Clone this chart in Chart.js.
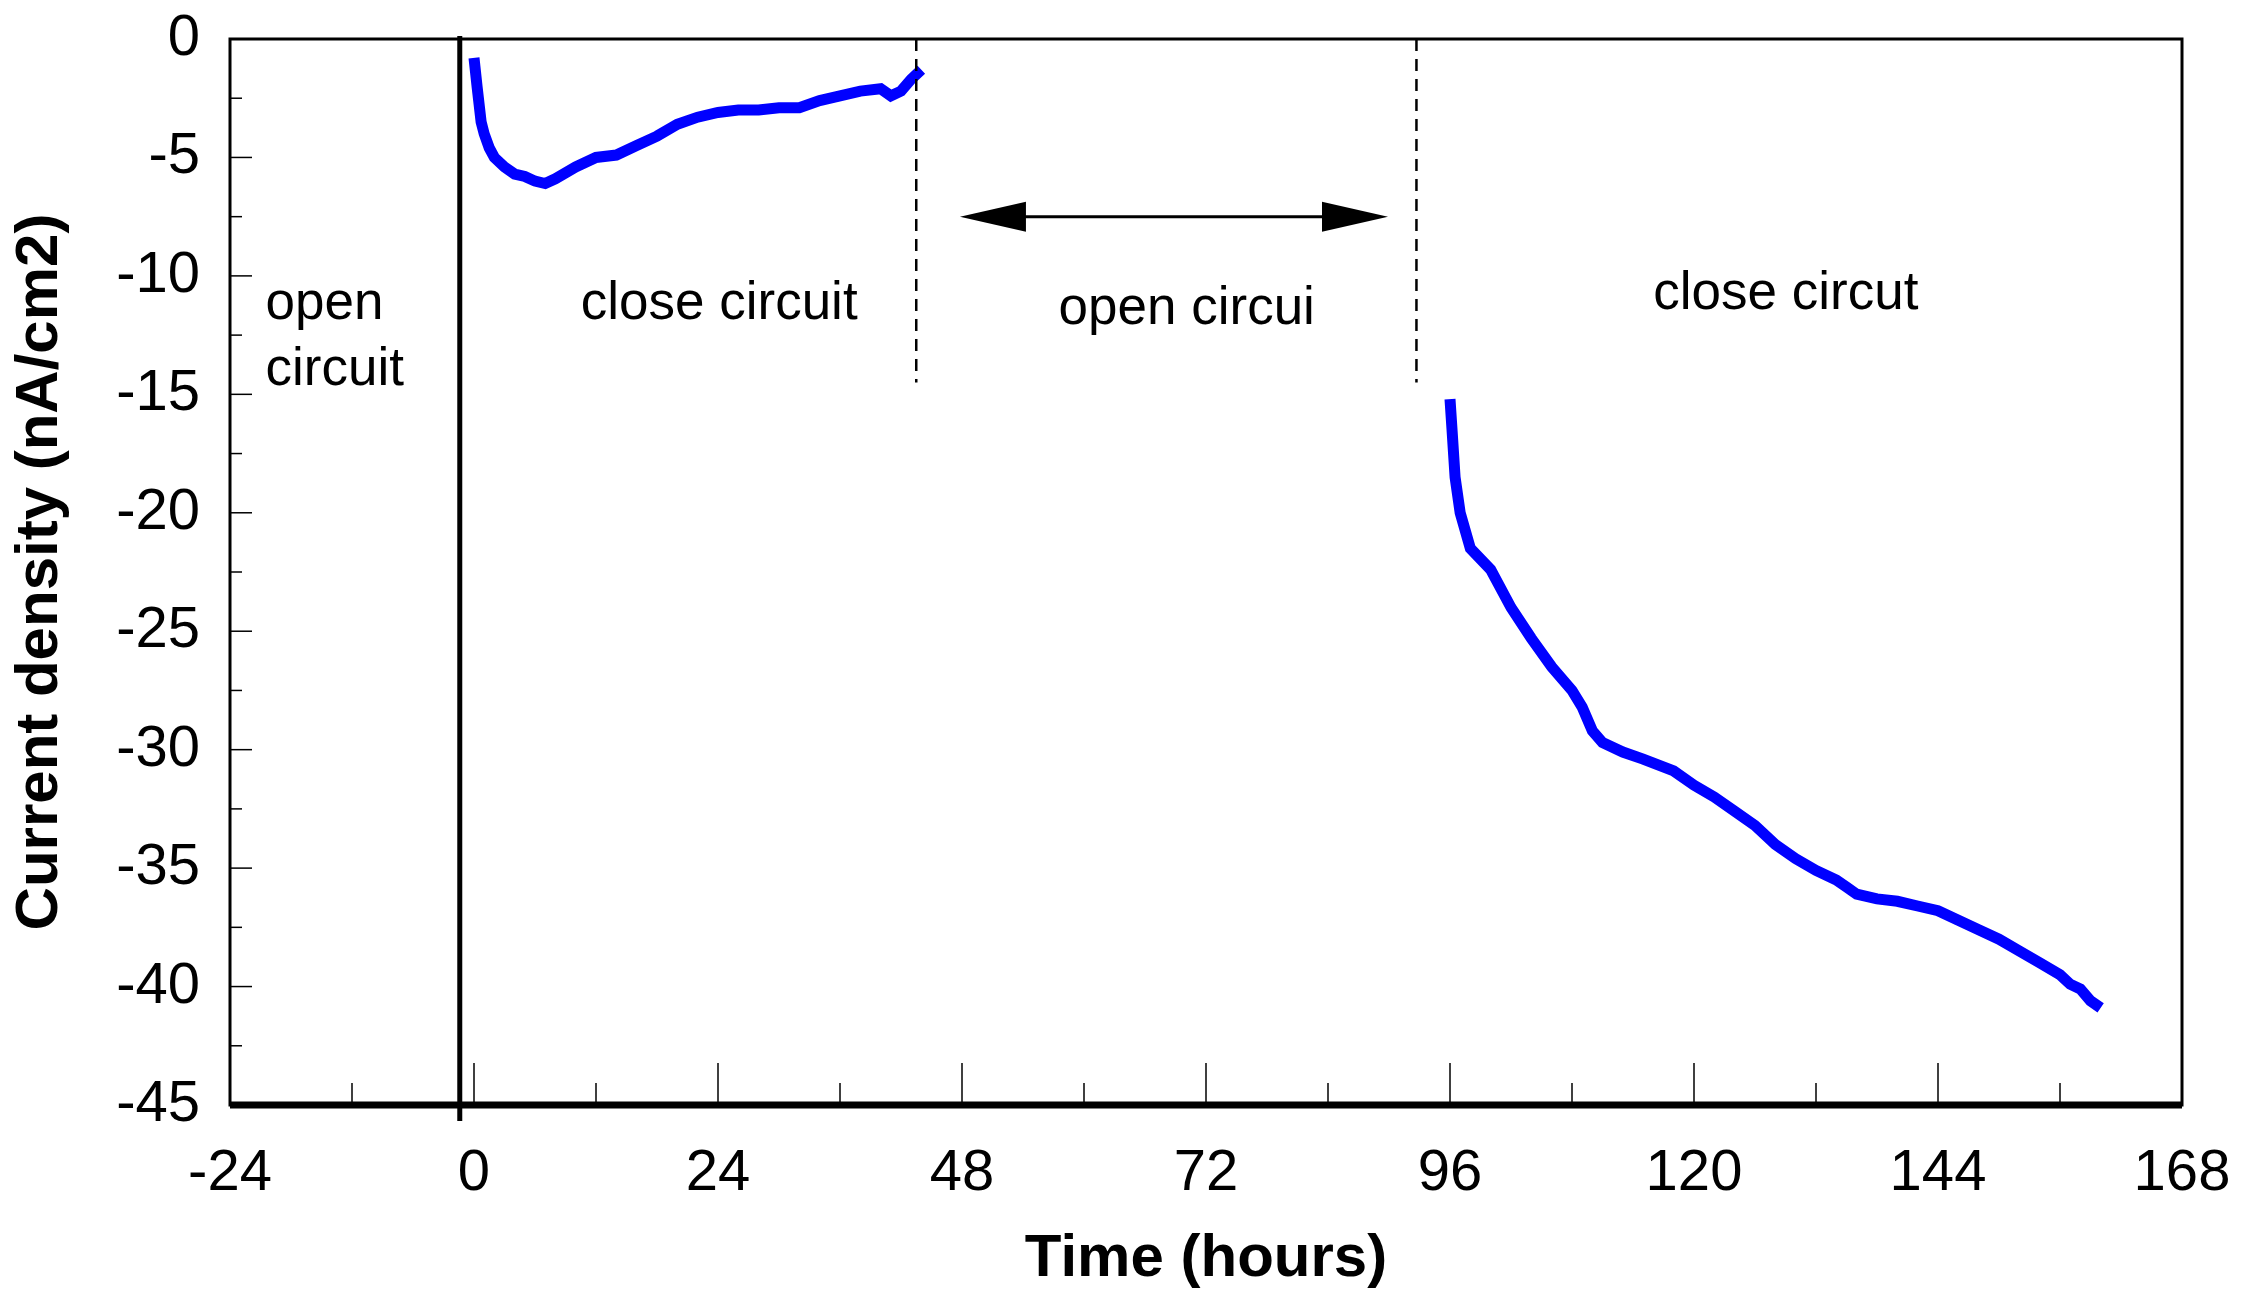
<!DOCTYPE html>
<html><head><meta charset="utf-8">
<script src="https://cdn.jsdelivr.net/npm/chart.js@4"></script>
<style>html,body{margin:0;padding:0;background:#fff}#w{width:2244px;height:1299px}</style>
</head><body><div id="w"><canvas id="c"></canvas></div>
<script>
const timeA = [0,0.3,0.7,1,1.5,2,3,4,5,6,7,8,10,12,14,16,18,20,22,24,26,28,30,32,34,36,38,40,41,42,43,44];
const currA = [-0.8,-2,-3.5,-4,-4.6,-5,-5.4,-5.7,-5.8,-6.0,-6.1,-5.9,-5.4,-5.0,-4.9,-4.5,-4.1,-3.6,-3.3,-3.1,-3.0,-3.0,-2.9,-2.9,-2.6,-2.4,-2.2,-2.1,-2.4,-2.2,-1.7,-1.3];
const timeB = [96,96.2,96.5,97,98,100,102,104,106,108,109,110,111,113,115,118,120,122,124,126,128,130,132,134,135,136,138,140,142,144,146,148,150,152,154,156,157,158,159,160];
const currB = [-15.2,-16.5,-18.5,-20,-21.5,-22.4,-24,-25.3,-26.5,-27.5,-28.2,-29.2,-29.7,-30.1,-30.4,-30.9,-31.5,-32.0,-32.6,-33.2,-34.0,-34.6,-35.1,-35.5,-35.8,-36.1,-36.3,-36.4,-36.6,-36.8,-37.2,-37.6,-38.0,-38.5,-39.0,-39.5,-39.9,-40.1,-40.6,-40.9];
const xTicks = [-24,0,24,48,72,96,120,144,168];
const yTicks = [0,-5,-10,-15,-20,-25,-30,-35,-40,-45];
const labels = [
  {t:-20.5, v:-11.2, text:'open'},
  {t:-20.5, v:-14.0, text:'circuit'},
  {t:10.5, v:-11.2, text:'close circuit'},
  {t:57.5, v:-11.4, text:'open circui'},
  {t:116, v:-10.8, text:'close circut'}
];
const markers = {solid:-1.4, dash1:43.5, dash2:92.7, dashEnd:-14.5, arrowY:-7.5, arrowFrom:47.8, arrowTo:89.9};

const deco = {
  id:'deco',
  afterDraw(ch){
    const c=ch.ctx, x=ch.scales.x, y=ch.scales.y, a=ch.chartArea;
    c.save();
    c.strokeStyle='#000';
    c.lineWidth=1.5;
    for(let v=-45; v<=0; v+=2.5){
      const py=y.getPixelForValue(v); const len = (v%5===0)?22:12;
      c.beginPath(); c.moveTo(a.left,py); c.lineTo(a.left+len,py); c.stroke();
    }
    for(let t=-24; t<=168; t+=12){
      const px=x.getPixelForValue(t); const len = (t%24===0)?42:22;
      c.beginPath(); c.moveTo(px,a.bottom); c.lineTo(px,a.bottom-len); c.stroke();
    }
    c.lineWidth=3; c.strokeRect(a.left,a.top,a.right-a.left,a.bottom-a.top);
    c.lineWidth=7; c.beginPath(); c.moveTo(a.left,a.bottom); c.lineTo(a.right,a.bottom); c.stroke();
    const sx=x.getPixelForValue(markers.solid);
    c.lineWidth=5; c.beginPath(); c.moveTo(sx,a.top-3); c.lineTo(sx,a.bottom+16); c.stroke();
    c.lineWidth=2.5; c.setLineDash([12,8]);
    [markers.dash1,markers.dash2].forEach(t=>{const px=x.getPixelForValue(t);
      c.beginPath(); c.moveTo(px,a.top); c.lineTo(px,y.getPixelForValue(markers.dashEnd)); c.stroke();});
    c.setLineDash([]);
    const ay=y.getPixelForValue(markers.arrowY), x1=x.getPixelForValue(markers.arrowFrom), x2=x.getPixelForValue(markers.arrowTo);
    c.lineWidth=3; c.beginPath(); c.moveTo(x1+60,ay); c.lineTo(x2-60,ay); c.stroke();
    c.fillStyle='#000';
    c.beginPath(); c.moveTo(x1,ay); c.lineTo(x1+66,ay-15); c.lineTo(x1+66,ay+15); c.closePath(); c.fill();
    c.beginPath(); c.moveTo(x2,ay); c.lineTo(x2-66,ay-15); c.lineTo(x2-66,ay+15); c.closePath(); c.fill();
    c.font='53px "Liberation Sans", Arial, sans-serif'; c.textBaseline='middle'; c.textAlign='left';
    labels.forEach(l=>c.fillText(l.text, x.getPixelForValue(l.t), y.getPixelForValue(l.v)));
    c.restore();
  }
};

new Chart(document.getElementById('c'), {
  type:'scatter',
  data:{datasets:[
    {data:timeA.map((t,i)=>({x:t,y:currA[i]})), showLine:true, borderColor:'#0000ff', backgroundColor:'#0000ff', borderWidth:11, pointRadius:0, tension:0},
    {data:timeB.map((t,i)=>({x:t,y:currB[i]})), showLine:true, borderColor:'#0000ff', backgroundColor:'#0000ff', borderWidth:11, pointRadius:0, tension:0}
  ]},
  options:{
    responsive:true, maintainAspectRatio:false, animation:false,
    layout:{padding:{top:39,right:62,left:0,bottom:0}},
    plugins:{legend:{display:false}, tooltip:{enabled:false}},
    scales:{
      x:{type:'linear', min:-24, max:168, afterBuildTicks:s=>{s.ticks=xTicks.map(v=>({value:v}));},
        grid:{display:false, drawTicks:false}, border:{display:false},
        ticks:{color:'#000', padding:34, font:{size:58, family:'"Liberation Sans", Arial'}},
        title:{display:true, text:'Time (hours)', color:'#000', font:{size:60, weight:'bold', family:'"Liberation Sans", Arial'}, padding:{top:22}},
        afterFit:s=>{s.height=194; s.paddingRight=0;}},
      y:{type:'linear', min:-45, max:0, afterBuildTicks:s=>{s.ticks=yTicks.map(v=>({value:v}));},
        grid:{display:false, drawTicks:false}, border:{display:false},
        ticks:{color:'#000', padding:30, font:{size:58, family:'"Liberation Sans", Arial'}},
        title:{display:true, text:'Current density (nA/cm2)', color:'#000', font:{size:60, weight:'bold', family:'"Liberation Sans", Arial'}, padding:{bottom:4}},
        afterFit:s=>{s.width=230; s.paddingTop=0; s.paddingBottom=0;}}
    }
  },
  plugins:[deco]
});
</script></body></html>
